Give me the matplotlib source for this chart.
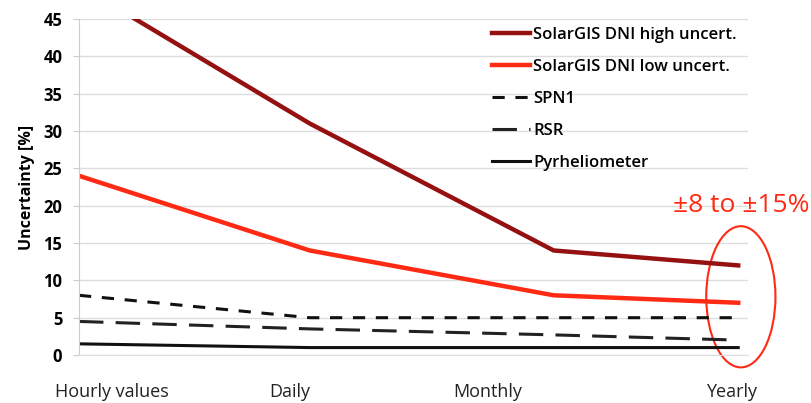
import matplotlib.pyplot as plt
from matplotlib.patches import Ellipse

plt.rcParams['font.family'] = ['Open Sans', 'DejaVu Sans']

categories = ['Hourly values', 'Daily', 'Monthly', 'Yearly']
# the source chart has uneven spacing between the categories
x_data = [0.0, 0.35, 0.72, 1.0]
x_labels = [0.05, 0.32, 0.62, 0.99]

high_uncert = [49.5, 31, 14, 12]
low_uncert = [24, 14, 8, 7]
spn1 = [8, 5, 5, 5]
rsr = [4.5, 3.5, 2.7, 2]
pyrheliometer = [1.5, 1.0, 1.0, 1.0]

fig = plt.figure(figsize=(8.12, 4.03), dpi=100)
ax = fig.add_axes([0.0973, 0.119, 0.824, 0.834])

ax.plot(x_data, high_uncert, color='#951010', lw=3.2, label='SolarGIS DNI high uncert.')
ax.plot(x_data, low_uncert, color='#ff2a14', lw=3.2, label='SolarGIS DNI low uncert.')
ax.plot(x_data, spn1, color='#111111', lw=2.2, dashes=(4, 3.5), label='SPN1')
ax.plot(x_data, rsr, color='#222222', lw=2.2, dashes=(8, 4), label='RSR')
ax.plot(x_data, pyrheliometer, color='#111111', lw=2.2, label='Pyrheliometer')

ax.set_xlim(0, 1.015)
ax.set_ylim(0, 45)
ax.set_yticks(range(0, 46, 5))
ax.yaxis.grid(True, color='#dddddd', lw=1)
ax.set_axisbelow(True)
ax.set_xticks(x_labels)
ax.set_xticklabels(categories, fontsize=13, color='#222222')
ax.tick_params(axis='x', length=0, pad=20)
ax.tick_params(axis='y', length=4, color='#cccccc', labelsize=12, pad=8)
for lbl in ax.get_yticklabels():
    lbl.set_fontweight('bold')
for s in ['top', 'right']:
    ax.spines[s].set_visible(False)
ax.spines['left'].set_color('#cccccc')
ax.spines['bottom'].set_color('#dddddd')
ax.set_ylabel('Uncertainty [%]', fontsize=11.5, fontweight='bold', labelpad=6)

ax.legend(loc='upper left', bbox_to_anchor=(0.595, 1.02), frameon=False,
          prop={'size': 12, 'weight': 'semibold'}, handlelength=2.3,
          handletextpad=0.15, labelspacing=0.95, borderpad=0.4)

ell = Ellipse((1.004, 7.8), 0.105, 18.9, fill=False, edgecolor='#ff2a14',
              lw=1.5, clip_on=False, transform=ax.transData)
ax.add_patch(ell)
ax.text(1.005, 20, '±8 to ±15%', color='#ff2a14', fontsize=19,
        ha='center', va='center', clip_on=False)

fig.savefig('out.png', dpi=100)
